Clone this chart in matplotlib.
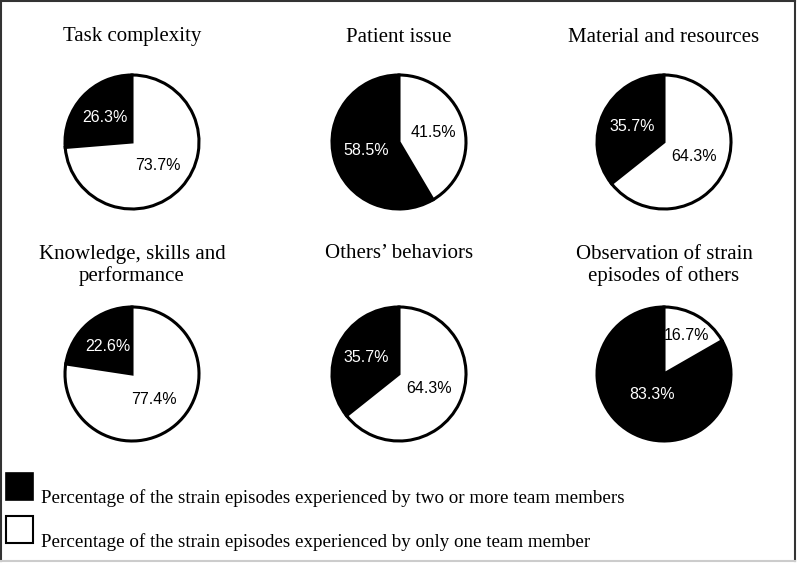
import numpy as np
import matplotlib.pyplot as plt
from matplotlib.lines import Line2D
from matplotlib.patches import Rectangle

# share of strain episodes (%): [two or more members, only one member]
titles = [
    "Task complexity",
    "Patient issue",
    "Material and resources",
    "Knowledge, skills and\nperformance",
    "Others\u2019 behaviors",
    "Observation of strain\nepisodes of others",
]
shared_pct = [26.3, 58.5, 35.7, 22.6, 35.7, 83.3]
single_pct = [73.7, 41.5, 64.3, 77.4, 64.3, 16.7]
legend_labels = [
    "Percentage of the strain episodes experienced by two or more team members",
    "Percentage of the strain episodes experienced by only one team member",
]

W, H = 800, 568
serif = ["Liberation Serif", "DejaVu Serif"]
sans = ["Liberation Sans", "DejaVu Sans"]

# label distance from centre (fraction of radius), per pie: (black, white)
label_dist = [(0.55, 0.52), (0.5, 0.54), (0.52, 0.5), (0.55, 0.5), (0.55, 0.5), (0.35, 0.66)]

fig = plt.figure(figsize=(W / 100, H / 100), dpi=100)
ax = fig.add_axes([0, 0, 1, 1])

col_x = [132, 399, 664]
row_y = [142, 374]
radius = 67

for i, (title, a, b) in enumerate(zip(titles, shared_pct, single_pct)):
    cx = col_x[i % 3]
    cy = H - row_y[i // 3]
    wedges, _, autotexts = ax.pie(
        [a, b],
        colors=["black", "white"],
        startangle=90,
        counterclock=True,
        center=(cx, cy),
        radius=radius,
        autopct="%.1f%%",
        pctdistance=0.55,
        wedgeprops=dict(edgecolor="black", linewidth=2.2),
        textprops=dict(family=sans, fontsize=11.5),
    )
    autotexts[0].set_color("white")
    autotexts[1].set_color("black")
    for w, t, d in zip(wedges, autotexts, label_dist[i]):
        w.set_clip_on(False)
        mid = np.deg2rad((w.theta1 + w.theta2) / 2)
        t.set_position((cx + d * radius * np.cos(mid), cy + d * radius * np.sin(mid)))
    # titles
    if "\n" in title:
        ty = H - 265.5
    else:
        ty = H - (37 if i < 3 else 254)
    ax.text(cx, ty, title, ha="center", va="center", family=serif,
            fontsize=15, linespacing=1.12)

# legend swatches
ax.add_patch(Rectangle((6, H - 500), 27, 27, facecolor="black", edgecolor="black", lw=1.2))
ax.add_patch(Rectangle((6, H - 543), 27, 27, facecolor="white", edgecolor="black", lw=1.5))
ax.text(41, H - 503, legend_labels[0], ha="left", va="baseline", family=serif, fontsize=13.7)
ax.text(41, H - 547, legend_labels[1], ha="left", va="baseline", family=serif, fontsize=13.7)

# outer frame
dark = "#333333"
ax.add_line(Line2D([1, 1], [H - 1, H - 561], color=dark, lw=1.5))
ax.add_line(Line2D([1, 795], [H - 1, H - 1], color=dark, lw=1.5))
ax.add_line(Line2D([795, 795], [H - 1, H - 561], color=dark, lw=1.5))
ax.add_line(Line2D([1, 795], [H - 561, H - 561], color="#cccccc", lw=1.5))

ax.set_xlim(0, W)
ax.set_ylim(0, H)
ax.set_aspect("auto")
ax.axis("off")

fig.savefig("out.png", dpi=100)
